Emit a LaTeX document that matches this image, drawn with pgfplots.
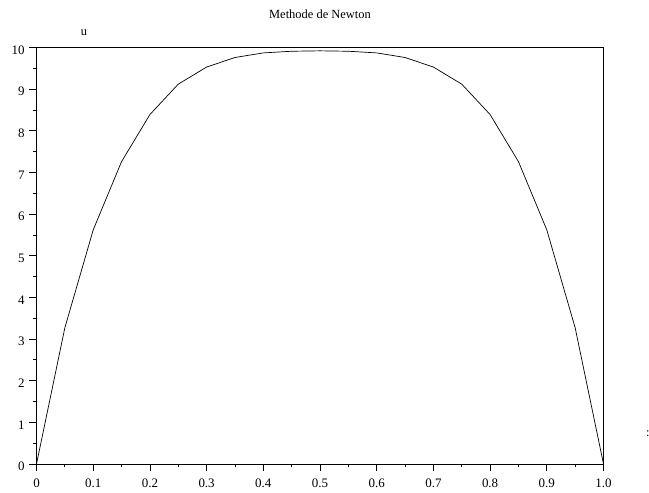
\documentclass[border=0pt]{standalone}
\usepackage{fontspec}
\setmainfont{Liberation Serif}
\usepackage{pgfplots}
\pgfplotsset{compat=1.18}
\begin{document}
\fontsize{12.5}{15}\selectfont
\begin{tikzpicture}
\useasboundingbox (-36.5bp,-29bp) rectangle (612.5bp,464bp);
\begin{axis}[
  at={(0,0)}, anchor=south west,
  scale only axis, width=567bp, height=416.5bp,
  xmin=0, xmax=1, ymin=0, ymax=10,
  axis line style={line width=0.8bp},
  tick align=outside,
  xtick pos=bottom, ytick pos=left,
  major tick length=7bp, minor tick length=3.5bp,
  every tick/.style={black, line width=0.8bp},
  xtick={0,0.1,...,1.0},
  xticklabels={0,0.1,0.2,0.3,0.4,0.5,0.6,0.7,0.8,0.9,1.0},
  ytick={0,1,...,10},
  minor x tick num=1, minor y tick num=1,
  /pgf/number format/assume math mode=true,
  ticklabel style={font=\fontsize{13}{15}\selectfont},
  xticklabel style={yshift=-4bp},
  yticklabel style={xshift=-0.5bp, yshift=-2.5bp},
  clip=false,
]
\addplot[black, line width=0.7bp] coordinates {
(0,0) (0.05,3.27) (0.10,5.62) (0.15,7.26) (0.20,8.39) (0.25,9.12) (0.30,9.53) (0.35,9.76) (0.40,9.87) (0.45,9.91) (0.50,9.92)
(0.55,9.91) (0.60,9.87) (0.65,9.76) (0.70,9.53) (0.75,9.12) (0.80,8.39) (0.85,7.26) (0.90,5.62) (0.95,3.27) (1.0,0)
};
\node at (rel axis cs:0.5,1.08) {Methode de Newton};
\node at (rel axis cs:0.0838,1.035) {u};
\node at (rel axis cs:1.078,0.074) {:};
\end{axis}
\end{tikzpicture}
\end{document}
